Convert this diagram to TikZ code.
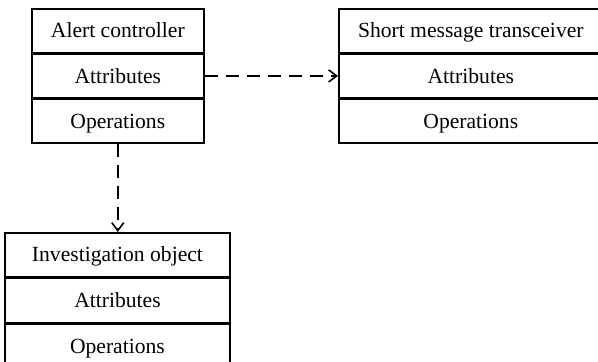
\documentclass[tikz,border=0pt]{standalone}
\usepackage{fontspec}
\setmainfont{Liberation Serif}
\usetikzlibrary{arrows.meta}
\begin{document}
\begin{tikzpicture}[x=1pt,y=-1pt,
  cell/.style={draw, line width=1.6pt, inner sep=0pt, text height=14.3pt, text depth=0pt,
    font=\fontsize{21.6}{24}\selectfont, anchor=north west},
  dep/.style={draw, line width=1.6pt, dash pattern=on 13pt off 8pt,
    -{Straight Barb[length=8pt,width=12pt,line width=1.6pt]}}]
\clip (0,0) rectangle (598,362);
\useasboundingbox (0,0) rectangle (598,362);
% Alert controller
\node[cell, minimum width=172, minimum height=43.67] (ac1) at (31,8) {Alert controller};
\node[cell, minimum width=172, minimum height=43.67] (ac2) at (ac1.south west) {Attributes};
\node[cell, minimum width=172, minimum height=43.67] (ac3) at (ac2.south west) {Operations};
% Short message transceiver
\node[cell, minimum width=264, minimum height=43.67] (sm1) at (338,8) {Short message transceiver};
\node[cell, minimum width=264, minimum height=43.67] (sm2) at (sm1.south west) {Attributes};
\node[cell, minimum width=264, minimum height=43.67] (sm3) at (sm2.south west) {Operations};
% Investigation object
\node[cell, minimum width=225.3, minimum height=44] (io1) at (4,232) {Investigation object};
\node[cell, minimum width=225.3, minimum height=44] (io2) at (io1.south west) {Attributes};
\node[cell, minimum width=225.3, minimum height=44] (io3) at (io2.south west) {Operations};
% dependencies
\draw[dep] (ac2.east) -- (sm2.west);
\draw[dep] (ac3.south) -- (ac3.south |- io1.north);
\end{tikzpicture}
\end{document}
